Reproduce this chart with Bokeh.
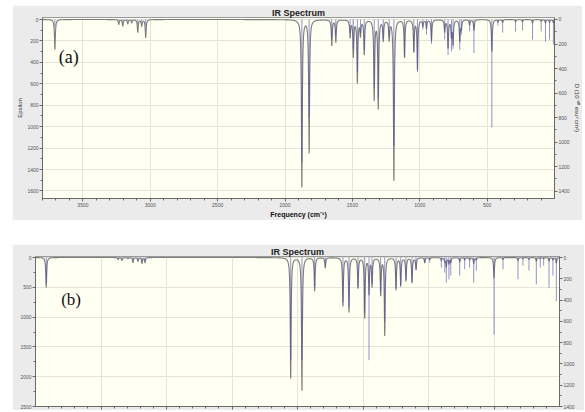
import numpy as np
from bokeh.plotting import figure
from bokeh.models import Range1d, LinearAxis, FixedTicker, Label, Spacer, CustomJSTickFormatter
from bokeh.layouts import column, row
from bokeh.embed import file_html
from bokeh.resources import INLINE

# ---------------- Panel (a) : frequency (cm-1), epsilon (curve), D (sticks)
a_freq = [3708, 3234, 3204, 3167, 3138, 3093, 3064, 3034,
          1875, 1821, 1653, 1623, 1517, 1493, 1463, 1440, 1412, 1338, 1308, 1271, 1227, 1192,
          1113, 1044, 1017, 977, 950, 913, 815, 790, 765, 753, 703, 691, 630, 598,
          465, 420, 385, 289, 237, 163, 99, 67, 37, 8]
a_eps = [280, 45, 60, 40, 30, 120, 60, 170,
         1560, 1240, 240, 210, 160, 340, 580, 140, 320, 740, 820, 190, 180, 1500,
         350, 290, 460, 60, 80, 200, 110, 260, 150, 220, 200, 80, 50, 100,
         300, 20, 25, 20, 20, 30, 15, 30, 25, 30]
a_D = [60, 12, 18, 12, 8, 35, 18, 50,
       1160, 800, 160, 130, 110, 240, 430, 110, 250, 560, 640, 160, 150, 1030,
       300, 270, 430, 82, 123, 200, 164, 290, 260, 240, 250, 123, 96, 273,
       880, 50, 107, 98, 90, 164, 98, 180, 164, 205]

# ---------------- Panel (b)
b_freq = [3918, 3370, 3340, 3294, 3256, 3218, 3187, 3164,
          2052, 1966, 1869, 1788, 1653, 1607, 1538, 1487, 1454, 1431, 1365, 1334,
          1248, 1212, 1172, 1126, 1095, 1029, 991, 902, 876, 864, 844, 830,
          762, 724, 686, 655, 635, 500, 431, 317, 279, 233, 177, 147, 121, 80, 50, 24]
b_eps = [500, 35, 50, 20, 85, 65, 100, 85,
         2030, 2230, 560, 170, 810, 910, 510, 1010, 600, 475, 620, 1300,
         535, 475, 390, 420, 200, 85, 30, 50, 60, 150, 100, 80,
         70, 40, 40, 100, 40, 340, 30, 50, 20, 30, 60, 20, 20, 60, 40, 90]
b_D = [240, 12, 18, 8, 30, 22, 35, 30,
       965, 960, 280, 90, 420, 470, 280, 520, 965, 250, 330, 600,
       290, 260, 210, 230, 110, 50, 47, 95, 142, 237, 205, 170,
       170, 110, 95, 237, 123, 725, 110, 205, 76, 123, 252, 95, 76, 284, 170, 410]

HWHM = 4.0  # Lorentzian half width used by the spectrum program


def broadened(freqs, eps, grid):
    y = np.zeros_like(grid)
    for f, e in zip(freqs, eps):
        y += e * HWHM ** 2 / ((grid - f) ** 2 + HWHM ** 2)
    return y


BORDER = "#ebebeb"
PLOTBG = "#fffff2"
GRID = "#e4e4da"
AXC = "#6a6a6a"
TICKFONT = "Liberation Sans"


def style_axis(ax, label_size="6px"):
    ax.major_label_text_font_size = "5px"
    ax.major_label_text_font = TICKFONT
    ax.major_label_text_color = "#555555"
    ax.axis_line_color = AXC
    ax.major_tick_line_color = AXC
    ax.minor_tick_line_color = AXC
    ax.major_tick_out = 3
    ax.major_tick_in = 0
    ax.minor_tick_out = 2
    ax.minor_tick_in = 0
    ax.major_label_standoff = 1
    ax.axis_label_standoff = 1
    ax.axis_label_text_font = TICKFONT
    ax.axis_label_text_font_size = label_size
    ax.axis_label_text_font_style = "normal"
    ax.axis_label_text_color = "#333333"


def make_panel(freq, eps, D, xmax, eps_range, d_range, eps_ticks, eps_minor, d_ticks, d_minor,
               width, height, borders, letter, letter_pos, letter_size, show_labels):
    p = figure(width=width, height=height, output_backend="svg", toolbar_location=None,
               x_range=Range1d(xmax, 0), y_range=Range1d(*eps_range),
               title="IR Spectrum",
               min_border_left=borders[0], min_border_right=borders[1],
               min_border_top=borders[2], min_border_bottom=borders[3])
    p.background_fill_color = PLOTBG
    p.border_fill_color = BORDER
    p.outline_line_color = "#9a9a9a"
    p.title.text_font = TICKFONT
    p.title.text_font_size = "9px"
    p.title.text_font_style = "bold"
    p.title.text_color = "#222222"
    p.title.align = "center"
    p.title.standoff = 0
    p.title.offset = 0

    xt = list(range(500, int(xmax), 500))
    xm = [v for v in range(0, int(xmax) + 1, 100) if v % 500 != 0]
    p.xaxis.ticker = FixedTicker(ticks=xt, minor_ticks=xm)
    p.yaxis.ticker = FixedTicker(ticks=eps_ticks, minor_ticks=eps_minor)
    p.xgrid.ticker = FixedTicker(ticks=xt)
    p.ygrid.ticker = FixedTicker(ticks=eps_ticks)
    p.xgrid.grid_line_color = GRID
    p.ygrid.grid_line_color = GRID

    p.extra_y_ranges = {"D": Range1d(*d_range)}
    rax = LinearAxis(y_range_name="D", ticker=FixedTicker(ticks=d_ticks, minor_ticks=d_minor))
    if show_labels:
        rax.axis_label = "D (10⁻⁴⁰ esu² cm²)"
        p.yaxis.axis_label = "Epsilon"
        p.xaxis.axis_label = "Frequency (cm⁻¹)"
    p.add_layout(rax, "right")

    for ax in p.axis:
        style_axis(ax)
    p.xaxis.axis_label_text_font_size = "7px"
    p.xaxis.axis_label_text_font_style = "bold"
    p.xaxis.axis_label_text_color = "#111111"
    if not show_labels:
        p.xaxis.formatter = CustomJSTickFormatter(code="return ''")

    grid = np.union1d(np.arange(0, xmax + 0.5, 0.5), np.array(freq, dtype=float))
    curve = broadened(freq, eps, grid)
    p.line(grid, curve, line_color="#7c7c7c", line_width=1.1)
    p.segment(x0=freq, y0=[0] * len(freq), x1=freq, y1=D, y_range_name="D",
              line_color="#4a4ab8", line_alpha=0.6, line_width=1)

    p.add_layout(Label(x=letter_pos[0], y=letter_pos[1], text=letter,
                       text_font="Liberation Serif", text_font_size=letter_size,
                       text_color="#111111", text_baseline="middle", text_align="left"))
    return p


pa = make_panel(a_freq, a_eps, a_D, 3800, (1670, -19), (1459, -16),
                list(range(0, 1601, 200)), list(range(100, 1601, 200)),
                list(range(0, 1401, 200)), list(range(100, 1401, 200)),
                570, 215, (30, 23, 11, 17), "(a)", (3680, 352), "18px", True)

pb = make_panel(b_freq, b_eps, b_D, 4000, (2500, -17), (1400, -9.5),
                list(range(0, 2501, 500)), list(range(250, 2501, 500)),
                list(range(0, 1401, 200)), list(range(100, 1401, 200)),
                572, 166, (23, 25, 8, 4), "(b)", (3804, 701), "17px", False)

layout = column(Spacer(width=580, height=5),
                row(Spacer(width=12, height=215), pa),
                Spacer(width=580, height=24),
                row(Spacer(width=12, height=166), pb))

open("out.html", "w").write(file_html(layout, INLINE))
